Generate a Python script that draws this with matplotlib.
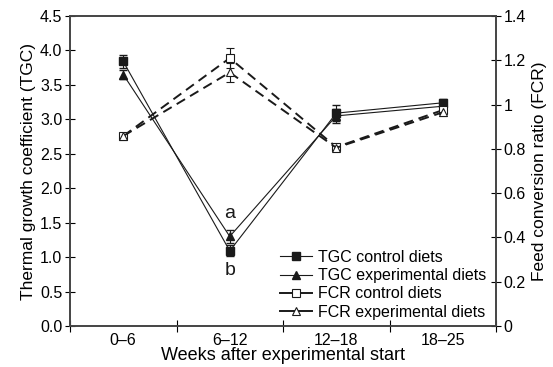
import matplotlib
matplotlib.use("Agg")
import matplotlib.pyplot as plt
from matplotlib.ticker import FormatStrFormatter, FuncFormatter
from matplotlib.lines import Line2D

plt.rcParams['font.family'] = ['Liberation Sans', 'DejaVu Sans']

periods = ["0\u20136", "6\u201312", "12\u201318", "18\u201325"]
tgc_control = [3.84, 1.09, 3.09, 3.24]
tgc_control_err = [0.10, 0.08, 0.12, 0.06]
tgc_exp = [3.65, 1.30, 3.05, 3.19]
tgc_exp_err = [0.06, 0.10, 0.10, 0.08]
fcr_control = [0.858, 1.21, 0.808, 0.975]
fcr_control_err = [0.01, 0.045, 0.01, 0.015]
fcr_exp = [0.858, 1.145, 0.805, 0.965]
fcr_exp_err = [0.01, 0.045, 0.01, 0.015]

x = list(range(len(periods)))

fig = plt.figure(figsize=(5.53, 3.67), dpi=100)
ax = fig.add_axes([70/553, 1-326/367, 426/553, 310/367])
ax2 = ax.twinx()

c = '#1a1a1a'
ax.errorbar(x, tgc_control, yerr=tgc_control_err, color=c, marker='s', ms=6, lw=0.8,
            capsize=3, elinewidth=0.8, zorder=3)
ax.errorbar(x, tgc_exp, yerr=tgc_exp_err, color=c, marker='^', ms=6, lw=0.8,
            capsize=3, elinewidth=0.8, zorder=3)
ax2.errorbar(x, fcr_control, yerr=fcr_control_err, color=c, marker='s', ms=6, lw=1.4,
             mfc='white', mew=0.8, ls=(0, (5, 3)), capsize=3, elinewidth=0.8)
ax2.errorbar(x, fcr_exp, yerr=fcr_exp_err, color=c, marker='^', ms=6, lw=1.4,
             mfc='white', mew=0.8, ls=(0, (5, 3)), capsize=3, elinewidth=0.8)

ax.text(1, 1.63, 'a', ha='center', va='center', fontsize=14, color=c)
ax.text(1, 0.80, 'b', ha='center', va='center', fontsize=14, color=c)

ax.set_xlim(-0.5, 3.5)
ax.set_ylim(0, 4.5)
ax2.set_ylim(0, 1.4)
ax.set_yticks([0, 0.5, 1, 1.5, 2, 2.5, 3, 3.5, 4, 4.5])
ax.yaxis.set_major_formatter(FormatStrFormatter('%.1f'))
ax2.set_yticks([0, 0.2, 0.4, 0.6, 0.8, 1.0, 1.2, 1.4])
ax2.yaxis.set_major_formatter(FuncFormatter(lambda v, p: f'{v:g}'))

ax.set_xticks([-0.5, 0.5, 1.5, 2.5, 3.5])
ax.set_xticklabels([])
ax.set_xticks(x, minor=True)
ax.set_xticklabels(periods, minor=True)
fs = 11.5
ax.tick_params(axis='x', which='minor', length=0, labelsize=fs, pad=5)
ax.tick_params(axis='x', which='major', direction='inout', length=8, width=0.8)
ax.tick_params(axis='y', direction='inout', length=7, width=0.8, labelsize=fs, pad=2)
ax2.tick_params(axis='y', direction='inout', length=7, width=0.8, labelsize=fs, pad=2)

for a in (ax, ax2):
    for s in a.spines.values():
        s.set_color('#444444')
        s.set_linewidth(1.2)

ax.set_xlabel('Weeks after experimental start', fontsize=13, labelpad=-1)
ax.set_ylabel('Thermal growth coefficient (TGC)', fontsize=12.5, labelpad=3)
ax2.set_ylabel('Feed conversion ratio (FCR)', fontsize=12.5, labelpad=4)

handles = [
    Line2D([], [], color=c, marker='s', ms=6, lw=0.8),
    Line2D([], [], color=c, marker='^', ms=6, lw=0.8),
    Line2D([], [], color=c, marker='s', ms=6, lw=1.4, mfc='white', mew=0.8),
    Line2D([], [], color=c, marker='^', ms=6, lw=1.4, mfc='white', mew=0.8),
]
labels = ['TGC control diets', 'TGC experimental diets',
          'FCR control diets', 'FCR experimental diets']
ax2.legend(handles, labels, loc='lower right', bbox_to_anchor=(1.0, -0.01),
           frameon=False, fontsize=fs, handlelength=2.0, handletextpad=0.4,
           labelspacing=0.2, borderaxespad=0.2)

fig.savefig('out.png', dpi=100)
